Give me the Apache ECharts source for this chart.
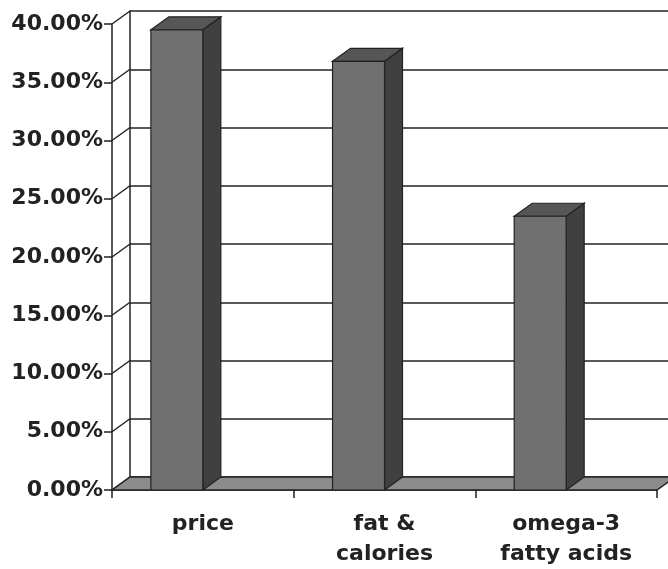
<!DOCTYPE html>
<html><head><meta charset="utf-8">
<script src="https://cdn.jsdelivr.net/npm/echarts@6/dist/echarts.min.js"></script>
<style>html,body{margin:0;padding:0;background:#fff}#c{width:668px;height:569px}</style>
</head><body><div id="c"></div>
<script>
const categories = ['price', 'fat &\ncalories', 'omega-3\nfatty acids'];
const shares = [39.5, 36.8, 23.5];
const yTicks = [0, 5, 10, 15, 20, 25, 30, 35, 40];

const DX = 18, DY = -13;
const INK = '#222';
const FONT = 'DejaVu Sans';
const chart = echarts.init(document.getElementById('c'), null, {renderer: 'canvas'});

const option = {
  animation: false,
  backgroundColor: '#fff',
  grid: [
    {left: 112, top: 24, width: 545, height: 466},
    {left: 130, top: 11, width: 545, height: 466}
  ],
  xAxis: [
    {type: 'category', data: categories, gridIndex: 0, boundaryGap: true,
     axisLine: {show: true, lineStyle: {color: INK, width: 1.5}},
     axisTick: {show: true, length: 8, lineStyle: {color: INK, width: 1.5}},
     axisLabel: {margin: 19, fontFamily: FONT, fontWeight: 'bold', fontSize: 22, color: INK, lineHeight: 30, interval: 0}},
    {type: 'category', data: categories, gridIndex: 1, show: false}
  ],
  yAxis: [
    {type: 'value', gridIndex: 0, min: 0, max: 40, interval: 5,
     axisLine: {show: true, lineStyle: {color: INK, width: 1.5}},
     axisTick: {show: true, length: 8, lineStyle: {color: INK, width: 1.5}},
     axisLabel: {margin: 9, fontFamily: FONT, fontWeight: 'bold', fontSize: 22, color: INK,
                 formatter: v => v.toFixed(2) + '%'},
     splitLine: {show: false}},
    {type: 'value', gridIndex: 1, min: 0, max: 40, interval: 5,
     axisLine: {show: true, lineStyle: {color: INK, width: 1.5}},
     axisTick: {show: false}, axisLabel: {show: false},
     splitLine: {show: true, lineStyle: {color: INK, width: 1.5}}}
  ],
  series: [
    {
      type: 'custom', xAxisIndex: 0, yAxisIndex: 0, silent: true, clip: false, z: 1,
      data: yTicks.map(v => [0, v]),
      renderItem(params, api) {
        const y = api.coord([0, api.value(1)])[1];
        const x = params.coordSys.x;
        return {type: 'line', shape: {x1: x, y1: y, x2: x + DX, y2: y + DY},
                style: {stroke: INK, lineWidth: 1.5}};
      }
    },
    {
      type: 'custom', xAxisIndex: 0, yAxisIndex: 0, silent: true, clip: false, z: 2,
      data: [[0, 0]],
      renderItem(params, api) {
        const cs = params.coordSys;
        const y0 = api.coord([0, 0])[1];
        const x0 = cs.x, x1 = cs.x + cs.width;
        return {type: 'polygon',
                shape: {points: [[x0, y0], [x1, y0], [x1 + DX, y0 + DY], [x0 + DX, y0 + DY]]},
                style: {fill: '#8c8c8c', stroke: INK, lineWidth: 1.5}};
      }
    },
    {
      type: 'custom', xAxisIndex: 0, yAxisIndex: 0, silent: true, clip: false, z: 3,
      data: shares.map((v, i) => [i, v]),
      renderItem(params, api) {
        const i = api.value(0), v = api.value(1);
        const top = api.coord([i, v]);
        const base = api.coord([i, 0]);
        const w = api.size([1, 0])[0] * 0.286;
        const xr = top[0], xl = xr - w;
        const yt = top[1], yb = base[1];
        const st = {stroke: INK, lineWidth: 1.2};
        return {type: 'group', children: [
          {type: 'polygon', shape: {points: [[xr, yt], [xr + DX, yt + DY], [xr + DX, yb + DY], [xr, yb]]},
           style: Object.assign({fill: '#404040'}, st)},
          {type: 'polygon', shape: {points: [[xl, yt], [xl + DX, yt + DY], [xr + DX, yt + DY], [xr, yt]]},
           style: Object.assign({fill: '#565656'}, st)},
          {type: 'rect', shape: {x: xl, y: yt, width: w, height: yb - yt},
           style: Object.assign({fill: '#707070'}, st)}
        ]};
      }
    }
  ]
};
chart.setOption(option);
</script>
</body></html>
